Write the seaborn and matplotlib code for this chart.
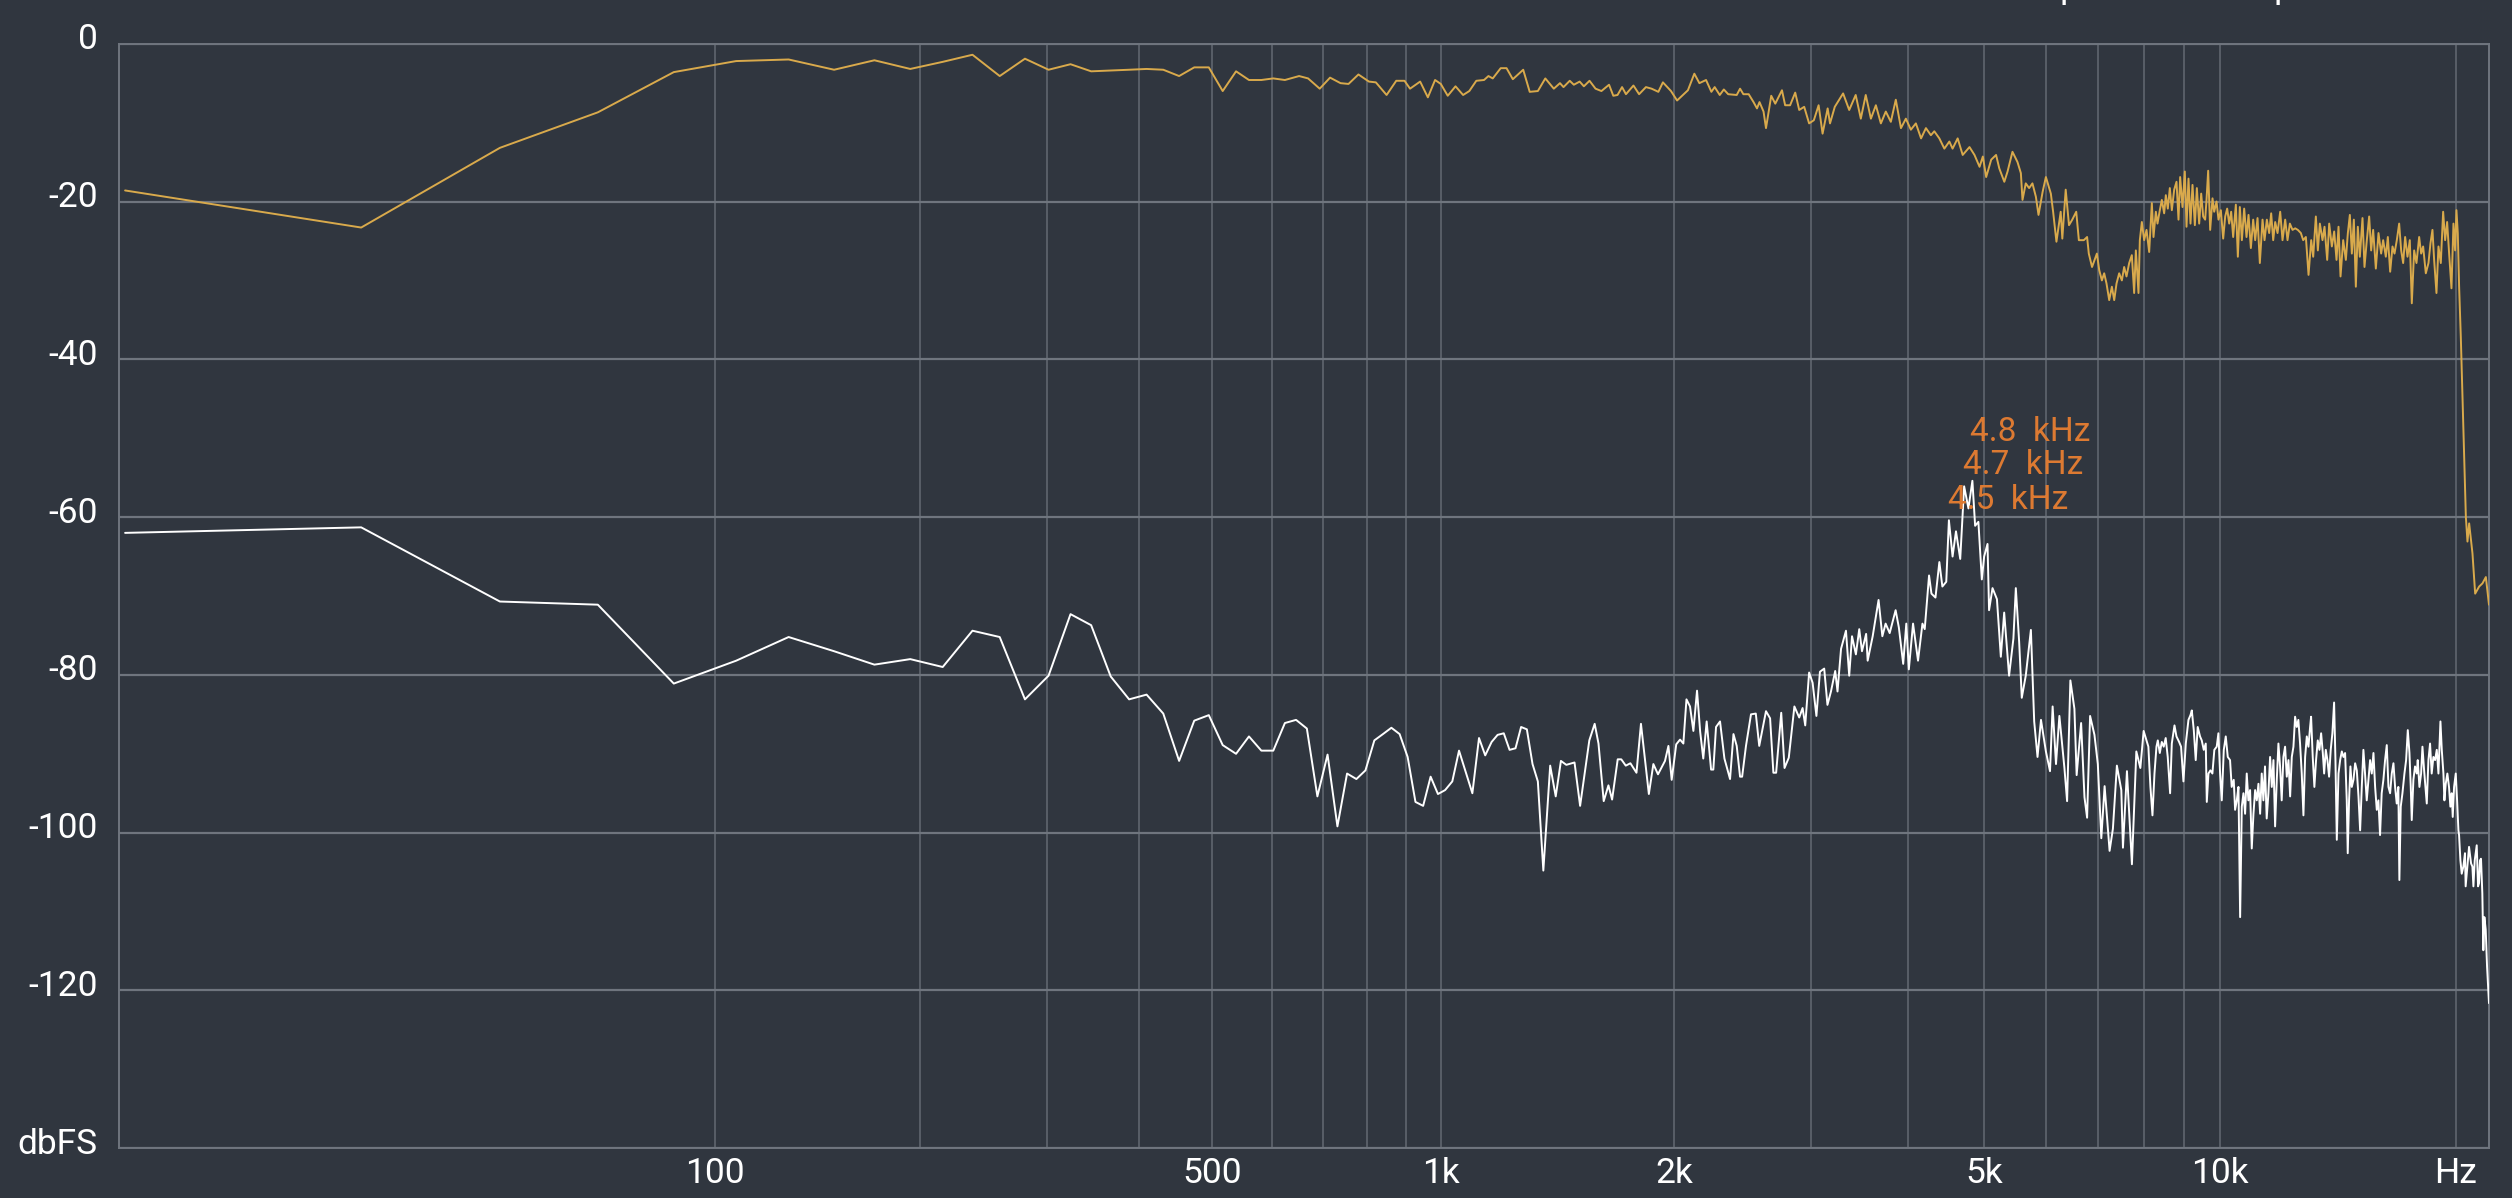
import numpy as np
import pandas as pd
import seaborn as sns
import matplotlib
matplotlib.use('Agg')
import matplotlib.pyplot as plt
from matplotlib.transforms import ScaledTranslation
from matplotlib.ticker import NullFormatter

# fft bin width of the analyser (44.1 kHz / 2048)
BIN = 44100 / 2048

# upper trace (golden)
input_hz = [0, 21.5, 43.1, 64.6, 86.1, 107.7, 129.2, 150.7, 172.3, 193.8, 215.3, 236.9, 258.4, 279.9,
            301.5, 323, 344.5, 366.1, 387.6, 409.1, 430.7, 452.2, 473.7, 495.3, 516.8, 538.3, 559.9,
            581.4, 602.9, 624.5, 652, 670, 694, 716, 739, 757, 780, 805, 822, 849, 874, 896, 911, 939,
            961, 982, 999, 1020, 1044, 1068, 1088, 1111, 1137, 1152, 1167, 1195, 1216, 1239, 1278,
            1303, 1335, 1365, 1400, 1426, 1441, 1468, 1486, 1512, 1531, 1557, 1585, 1613, 1650, 1671,
            1692, 1715, 1735, 1774, 1804, 1841, 1872, 1910, 1936, 1983, 2019, 2085, 2125, 2157, 2200,
            2235, 2257, 2291, 2319, 2349, 2409, 2433, 2457, 2496, 2532, 2558, 2577, 2608, 2627, 2668,
            2700, 2754, 2780, 2821, 2864, 2898, 2941, 2984, 3026, 3069, 3105, 3152, 3174, 3219, 3299,
            3359, 3424, 3476, 3527, 3581, 3634, 3688, 3742, 3798, 3854, 3913, 3970, 4029, 4089, 4152,
            4212, 4274, 4317, 4382, 4447, 4513, 4556, 4625, 4694, 4789, 4860, 4933, 4981, 5030, 5105,
            5179, 5228, 5306, 5357, 5435, 5516, 5571, 5598, 5652, 5708, 5764, 5823, 5868, 5939, 5997,
            6085, 6126, 6186, 6264, 6294, 6357, 6419, 6481, 6557, 6608, 6705, 6770, 6804, 6869, 6968,
            7016, 7071, 7119, 7168, 7225, 7282, 7332, 7382, 7440, 7499, 7550, 7602, 7662, 7722, 7775,
            7814, 7875, 7906, 7953, 8007, 8063, 8126, 8190, 8230, 8287, 8327, 8385, 8434, 8492, 8534,
            8584, 8635, 8686, 8746, 8806, 8858, 8901, 8963, 9024, 9069, 9122, 9176, 9230, 9294, 9349,
            9413, 9469, 9524, 9580, 9618, 9665, 9722, 9789, 9837, 9905, 9963, 10032, 10101, 10161,
            10220, 10281, 10341, 10402, 10484, 10546, 10608, 10671, 10744, 10818, 10882, 10957, 11032,
            11097, 11174, 11250, 11339, 11406, 11484, 11563, 11631, 11700, 11769, 11850, 11943, 12025,
            12120, 12203, 12287, 12384, 12481, 12579, 12691, 12778, 12879, 12980, 13082, 13159, 13262,
            13340, 13419, 13524, 13604, 13711, 13792, 13900, 13996, 14092, 14175, 14259, 14371, 14484,
            14569, 14655, 14741, 14828, 14915, 15002, 15091, 15210, 15299, 15404, 15510, 15601, 15693,
            15817, 15941, 16066, 16161, 16288, 16384, 16497, 16610, 16708, 16822, 16938, 17038, 17138,
            17238, 17357, 17476, 17579, 17700, 17822, 17962, 18068, 18174, 18317, 18461, 18569, 18678,
            18770, 18899, 19010, 19141, 19273, 19386, 19500, 19615, 19750, 19866, 19963, 20041, 20120,
            20199, 20298, 20603, 20700, 20803, 21006, 21173, 21423, 21632, 21848, 22050]
input_db = [-18.6, -23.3, -13.2, -8.7, -3.6, -2.2, -2.0, -3.3, -2.1, -3.2, -2.3, -1.4, -4.1, -1.9,
            -3.3, -2.6, -3.5, -3.4, -3.3, -3.2, -3.3, -4.1, -3.0, -3.0, -6.0, -3.5, -4.6,
            -4.6, -4.4, -4.6, -4.1, -4.4, -5.7, -4.3, -5.0, -5.1, -3.9, -4.8, -4.9, -6.5, -4.7, -4.7, -5.7, -4.8,
            -6.8, -4.6, -5.1, -6.6, -5.4, -6.5, -6.0, -4.7, -4.6, -4.1, -4.4, -3.1, -3.1, -4.5, -3.3,
            -6.1, -6.0, -4.4, -5.7, -5.0, -5.5, -4.7, -5.2, -4.8, -5.4, -4.7, -5.7, -6.0, -5.2, -6.6,
            -6.5, -5.5, -6.4, -5.3, -6.4, -5.5, -5.7, -6.1, -4.9, -6.0, -7.2, -5.9, -3.8, -5.0, -4.6,
            -6.1, -5.5, -6.5, -5.8, -6.4, -6.5, -5.7, -6.4, -6.4, -7.4, -8.2, -7.4, -8.6, -10.7, -6.6,
            -7.6, -5.9, -7.8, -7.8, -6.2, -8.4, -8.0, -10.1, -9.7, -7.8, -11.4, -8.2, -10.1, -8.0, -6.3,
            -8.4, -6.5, -9.5, -6.5, -9.5, -7.8, -10.1, -8.6, -9.9, -7.1, -10.7, -9.5, -10.9, -10.1, -12.0,
            -10.7, -11.6, -11.1, -12.0, -13.3, -12.4, -13.3, -12.0, -14.1, -13.1, -14.1, -15.6, -14.3, -16.9, -14.7,
            -14.1, -15.8, -17.5, -16.2, -13.7, -15.0, -16.4, -19.8, -17.7, -18.3, -17.7, -19.4, -21.7, -18.8, -16.9,
            -19.0, -21.3, -25.1, -21.3, -24.7, -18.5, -23.0, -22.3, -21.3, -24.9, -24.9, -24.5, -26.6, -28.3, -26.6,
            -28.7, -30.0, -29.1, -30.4, -32.5, -30.8, -32.5, -30.4, -29.1, -30.0, -28.3, -29.5, -27.8, -26.8, -31.6,
            -26.2, -31.6, -24.9, -22.6, -24.9, -23.6, -26.4, -20.2, -24.5, -21.3, -22.8, -21.1, -19.8, -21.5, -19.2,
            -20.9, -18.3, -21.1, -18.5, -17.5, -22.3, -16.9, -20.7, -16.2, -23.2, -17.1, -22.8, -17.9, -23.0, -18.3,
            -22.8, -19.0, -21.9, -22.3, -19.8, -16.1, -23.6, -19.6, -21.3, -20.0, -22.3, -21.1, -24.7, -21.9,
            -20.9, -22.8, -21.3, -24.5, -20.4, -27.0, -20.7, -24.9, -20.9, -24.5, -21.7, -25.9, -22.3,
            -24.9, -22.1, -27.8, -22.3, -24.9, -22.3, -24.0, -21.5, -24.9, -22.6, -24.0, -21.3, -24.9,
            -22.3, -24.9, -22.8, -23.6, -23.4, -23.6, -24.0, -24.9, -24.5, -29.3, -24.9, -27.0, -21.9,
            -26.2, -22.8, -24.9, -23.2, -27.4, -22.8, -25.7, -23.8, -27.4, -23.2, -29.5, -24.9, -27.4,
            -24.0, -21.7, -26.6, -22.3, -30.8, -23.2, -27.0, -22.1, -28.3, -24.9, -21.9, -26.2, -23.6,
            -28.5, -24.0, -26.6, -24.9, -27.0, -24.5, -28.9, -25.7, -26.6, -24.9, -22.8, -26.2, -27.8,
            -24.5, -27.0, -24.9, -32.9, -26.2, -27.8, -24.5, -26.6, -25.7, -29.1, -27.8, -25.3, -23.6,
            -27.4, -31.6, -25.7, -27.8, -21.3, -24.9, -22.6, -26.6, -31.0, -22.8, -26.2, -21.1, -24.0,
            -30.8, -37.1, -60.0, -63.1, -60.8, -64.6, -69.7, -68.8, -68.4, -67.6, -71.1]

# lower trace (white)
output_hz = [0, 21.5, 43.1, 64.6, 86.1, 107.7, 129.2, 150.7, 172.3, 193.8, 215.3, 236.9, 258.4, 279.9,
             301.5, 323, 344.5, 366.1, 387.6, 409.1, 430.7, 452.2, 473.7, 495.3, 516.8, 538.3, 559.9,
             581.4, 602.9, 624.5, 646, 667.5, 689.1, 710.6, 732.1, 753.7, 775.2, 796.7, 818.3, 839.8,
             861.3, 882.9, 904.4, 925.9, 947.5, 969, 990.5, 1012, 1034, 1055, 1077, 1098, 1120, 1141,
             1163, 1184, 1206, 1227, 1249, 1270, 1292, 1314, 1335, 1357, 1385, 1408, 1430, 1453, 1489,
             1514, 1556, 1581, 1599, 1624, 1647, 1665, 1693, 1711, 1734, 1758, 1790, 1814, 1857, 1882,
             1908, 1948, 1968, 1987, 2014, 2037, 2057, 2076, 2098, 2119, 2142, 2162, 2182, 2204, 2233,
             2248, 2266, 2293, 2323, 2362, 2386, 2409, 2433, 2448, 2476, 2513, 2549, 2575, 2627, 2659,
             2685, 2707, 2748, 2775, 2810, 2857, 2898, 2927, 2950, 2984, 3015, 3049, 3081, 3120, 3150,
             3183, 3223, 3245, 3279, 3327, 3359, 3387, 3426, 3460, 3488, 3531, 3547, 3600, 3663, 3704,
             3740, 3785, 3852, 3889, 3939, 3975, 4005, 4055, 4115, 4169, 4197, 4251, 4281, 4332, 4382,
             4421, 4472, 4507, 4556, 4602, 4660, 4714, 4774, 4830, 4869, 4916, 4966, 5000, 5050, 5073,
             5125, 5192, 5252, 5304, 5381, 5450, 5489, 5543, 5586, 5652, 5738, 5794, 5851, 5911, 5997,
             6070, 6117, 6178, 6240, 6333, 6383, 6445, 6522, 6565, 6652, 6718, 6770, 6830, 6918, 6987,
             7059, 7128, 7233, 7304, 7390, 7487, 7523, 7612, 7724, 7825, 7918, 7995,
             8107, 8156, 8205, 8254, 8302, 8335, 8384, 8433, 8481, 8531, 8582, 8642, 8685, 8754, 8805,
             8874, 8925, 8987, 9050, 9121, 9175, 9211, 9265, 9318, 9372, 9437, 9484, 9541, 9597, 9626,
             9673, 9729, 9786, 9842, 9911, 9960, 10010, 10059, 10119, 10178, 10238, 10307, 10357, 10419,
             10461, 10513, 10565, 10617, 10669, 10721, 10773, 10825, 10877, 10932, 10986, 11041, 11095,
             11150, 11204, 11259, 11313, 11368, 11422, 11479, 11537, 11594, 11652, 11709, 11766, 11824,
             11881, 11939, 11996, 12056, 12116, 12177, 12237, 12297, 12357, 12417, 12478, 12538, 12598,
             12661, 12724, 12787, 12851, 12914, 12977, 13040, 13078, 13141, 13205, 13270, 13336, 13403,
             13469, 13536, 13589, 13655, 13721, 13788, 13854, 13922, 13992, 14048, 14104, 14174, 14243,
             14313, 14383, 14452, 14522, 14564, 14621, 14680, 14738, 14811, 14884, 14957, 15031, 15104,
             15177, 15250, 15323, 15400, 15477, 15553, 15630, 15707, 15784, 15861, 15938, 16014, 16091,
             16172, 16252, 16333, 16414, 16494, 16575, 16656, 16737, 16817, 16898, 16949, 17017, 17102,
             17203, 17288, 17373, 17458, 17525, 17576, 17661, 17746, 17835, 17888, 17977, 18066, 18137,
             18226, 18298, 18369, 18458, 18547, 18636, 18729, 18823, 18916, 19009, 19121, 19196, 19289,
             19345, 19420, 19513, 19608, 19687, 19765, 19824, 19902, 20000, 20079, 20157, 20196, 20275,
             20353, 20451, 20549, 20590, 20693, 20796, 20920, 21002, 21064, 21147, 21270, 21353, 21415,
             21477, 21539, 21623, 21688, 21753, 21839, 21926, 22050]
output_db = [-62.0, -61.3, -70.7, -71.1, -81.1, -78.2, -75.2, -77.0, -78.7, -78.0, -79.0, -74.4, -75.2, -83.1,
             -80.1, -72.3, -73.7, -80.2, -83.1, -82.5, -84.9, -90.9, -85.8, -85.1, -88.9, -90.0, -87.8,
             -89.6, -89.6, -86.1, -85.7, -86.8, -95.4, -90.1, -99.2, -92.5, -93.2, -92.1, -88.3, -87.5,
             -86.7, -87.5, -90.4, -96.1, -96.6, -92.9, -95.1, -94.6, -93.5, -89.6, -92.4, -95.0, -88.0, -90.2,
             -88.5, -87.6, -87.4, -89.5, -89.3, -86.6, -86.9, -91.3, -93.5, -104.8, -91.5, -95.4, -90.9, -91.4, -91.1,
             -96.6, -88.3, -86.2, -88.7, -96.0, -94.0, -95.8, -90.7, -90.7, -91.5, -91.2, -92.4, -86.2, -95.1, -91.3,
             -92.6, -90.9, -89.0, -93.3, -88.8, -88.2, -88.7, -83.1, -84.0, -87.1, -82.0, -87.2, -90.6, -85.9, -92.0,
             -92.0, -86.6, -85.9, -90.6, -93.2, -87.5, -89.0, -92.9, -92.9, -89.0, -85.0, -84.9, -89.0, -84.6, -85.5,
             -92.4, -92.4, -84.8, -91.8, -90.5, -84.0, -85.4, -84.2, -86.4, -79.7, -81.0, -85.2, -79.6, -79.2, -83.8,
             -82.1, -79.5, -82.1, -76.7, -74.4, -80.1, -75.1, -77.4, -74.2, -77.0, -74.8, -78.2, -75.1, -70.5, -75.1,
             -73.5, -74.7, -71.8, -74.0, -78.6, -73.5, -79.3, -73.5, -78.2, -73.5, -74.2, -67.4, -69.7, -70.2, -65.7,
             -68.8, -68.2, -60.4, -65.0, -61.8, -65.3, -56.1, -58.9, -55.4, -61.1, -60.6, -67.9, -65.0, -63.4, -71.8,
             -69.0, -70.4, -77.7, -72.1, -80.1, -75.4, -69.0, -75.8, -82.9, -80.1, -74.3, -85.9, -90.4, -85.7, -89.7,
             -92.2, -84.0, -91.3, -85.2, -91.8, -96.0, -80.7, -84.3, -92.7, -86.1, -95.5, -98.1, -85.2, -87.6, -91.3,
             -100.7, -94.1, -102.3, -99.5, -91.5, -94.6, -101.9, -92.2, -104.0, -89.7, -91.8, -87.1,
             -89.1, -94.2, -97.8, -92.5, -89.1, -88.3, -89.9, -88.5, -89.1, -88.0, -90.4, -95.0, -88.7, -86.4, -87.8,
             -88.5, -89.1, -93.5, -88.7, -85.7, -85.1, -84.5, -87.0, -90.8, -86.6, -87.8, -88.3, -89.5, -88.7, -96.1,
             -92.5, -92.1, -92.5, -89.5, -89.1, -87.4, -92.5, -95.9, -89.5, -87.8, -90.4, -90.8, -94.2, -93.3,
             -97.1, -95.9, -94.2, -110.7, -96.7, -95.0, -97.6, -92.5, -95.9, -94.6, -102.0, -97.6, -94.6,
             -95.9, -93.8, -97.6, -92.5, -95.9, -91.6, -98.2, -95.0, -90.4, -94.2, -90.8, -99.2, -93.3,
             -88.7, -91.6, -95.9, -90.4, -89.1, -92.9, -90.8, -95.4, -90.4, -89.1, -85.3, -86.6, -85.7,
             -88.7, -92.5, -97.8, -90.4, -87.8, -89.1, -86.6, -85.3, -90.4, -94.2, -90.8, -88.3, -89.5,
             -87.4, -89.9, -92.5, -89.5, -90.8, -92.9, -89.5, -87.4, -83.5, -90.8, -100.9, -92.5, -90.8,
             -89.7, -90.4, -89.9, -95.9, -102.6, -95.9, -91.6, -94.2, -93.3, -91.2, -92.1, -95.4, -99.7,
             -94.2, -89.5, -92.5, -95.9, -93.3, -90.8, -92.5, -89.9, -94.2, -97.1, -95.9, -100.3, -95.0,
             -93.3, -90.8, -88.9, -94.2, -95.0, -92.5, -91.2, -94.2, -96.3, -94.2, -106.0, -96.7, -95.0,
             -92.5, -90.8, -87.0, -89.9, -94.2, -98.4, -93.3, -91.6, -92.5, -90.8, -94.2, -92.5, -89.1,
             -92.1, -94.2, -96.3, -90.8, -88.7, -92.5, -90.4, -90.8, -89.5, -92.5, -85.9, -89.5, -92.5,
             -95.9, -93.8, -92.5, -94.2, -96.7, -95.0, -98.0, -94.2, -92.5, -95.9, -99.7, -100.3, -103.5,
             -105.2, -104.3, -102.6, -106.8, -104.3, -101.8, -103.9, -104.3, -106.8, -103.5, -101.6, -106.8, -106.4,
             -103.5, -103.3, -107.7, -114.9, -110.7, -112.3, -117.0, -121.6]

peak_hz = [4800, 4700, 4500]
peak_db = [-49.2, -53.4, -57.8]
peak_text = ['4.8  kHz', '4.7  kHz', '4.5  kHz']

xticks = [100, 500, 1000, 2000, 5000, 10000, 20000]
xtick_labels = ['100', '500', '1k', '2k', '5k', '10k', 'Hz']
xgrid = [100, 200, 300, 400, 500, 600, 700, 800, 900,
         1000, 2000, 3000, 4000, 5000, 6000, 7000, 8000, 9000, 10000, 20000]
yticks = [0, -20, -40, -60, -80, -100, -120, -140]
ytick_labels = ['0', '-20', '-40', '-60', '-80', '-100', '-120', 'dbFS']

bg = '#30363f'
grid_h = '#6f757e'
grid_v = '#646a73'
gold = '#d9aa4c'
orange = '#dd7a32'

sns.set_theme(style='dark')
plt.rcParams['font.family'] = ['Roboto', 'DejaVu Sans']

fig = plt.figure(figsize=(25.12, 11.98), dpi=100, facecolor=bg)
ax = fig.add_axes([0.04753, 0.04149, 0.94331, 0.92203])
ax.set_facecolor(bg)

df_in = pd.DataFrame({'hz': input_hz, 'db': input_db})
df_out = pd.DataFrame({'hz': output_hz, 'db': output_db})
sns.lineplot(data=df_out, x='hz', y='db', ax=ax, color='white', linewidth=1.4,
             estimator=None, sort=False, zorder=3)
sns.lineplot(data=df_in, x='hz', y='db', ax=ax, color=gold, linewidth=1.4,
             estimator=None, sort=False, zorder=3)


def fwd(f):
    return np.log10(np.asarray(f, dtype=float) / BIN + 1)


def inv(v):
    return (10 ** np.asarray(v, dtype=float) - 1) * BIN


ax.set_xscale('function', functions=(fwd, inv))
ax.set_xlim(-0.357, 22050)
ax.set_ylim(-140, 0)

ax.set_xticks(xticks)
ax.set_xticklabels(xtick_labels)
ax.set_xticks([g for g in xgrid if g not in xticks], minor=True)
ax.xaxis.set_minor_formatter(NullFormatter())
ax.set_yticks(yticks)
ax.set_yticklabels(ytick_labels)

ax.grid(True, which='both', axis='x', color=grid_v, linewidth=1.1)
ax.grid(True, which='major', axis='y', color=grid_h, linewidth=1.6)
ax.set_axisbelow(True)
ax.tick_params(which='both', length=0, colors='white', labelsize=25.5)
ax.tick_params(axis='y', pad=15.5)
ax.tick_params(axis='x', pad=6)
for s in ax.spines.values():
    s.set_visible(True)
    s.set_color(grid_h)
    s.set_linewidth(1.4)
ax.set_xlabel('')
ax.set_ylabel('')

# y labels sit a little above their grid lines
up = ScaledTranslation(0, 7.5 / 100, fig.dpi_scale_trans)
for lab in ax.get_yticklabels():
    lab.set_transform(lab.get_transform() + up)

for hz, db, t in zip(peak_hz, peak_db, peak_text):
    ax.text(hz, db, t, color=orange, fontsize=24, ha='left', va='center', zorder=4)

# legend text cut off above the frame, only descenders show
fig.text(2060 / 2512, 1 + 3 / 1198, 'p', color='white', fontsize=26, ha='left', va='baseline')
fig.text(2273 / 2512, 1 + 3 / 1198, 'p', color='white', fontsize=26, ha='left', va='baseline')

fig.savefig('out.png', dpi=100, facecolor=bg)
